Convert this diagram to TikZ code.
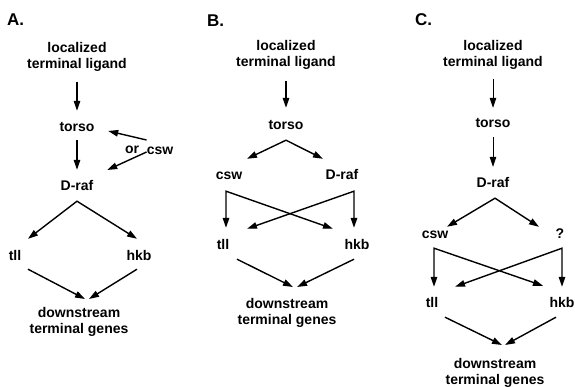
\documentclass[tikz,border=0pt]{standalone}
\usepackage{fontspec}
\setmainfont{Liberation Sans}
\usetikzlibrary{arrows.meta}
\begin{document}
\begin{tikzpicture}[x=1pt,y=-1pt,
  lbl/.style={inner sep=0pt,font=\fontsize{14}{16}\selectfont\bfseries,
              text height=10pt,text depth=3pt},
  twoline/.style={inner sep=0pt,font=\fontsize{14}{16}\selectfont\bfseries,
              align=center,anchor=north},
  panel/.style={inner sep=0pt,font=\fontsize{17}{18}\selectfont\bfseries,anchor=base west},
  tip/.tip={Triangle[length=10pt,width=6.5pt]},
  arr/.style={line width=1.4pt,-tip},
  thin/.style={line width=0.8pt,-tip},
  both/.style={line width=1.4pt,tip-tip,line join=miter}]
\useasboundingbox (0,0) rectangle (575,387);

% ---------------- A ----------------
\node[panel] (labA) at (7,26) {A.};
\node[twoline] (ligA) at (77,42) {localized\\terminal ligand};
\node[lbl] (torsoA) at (77,128) {torso};
\node[lbl] (drafA) at (77,187) {D-raf};
\node[lbl] (cswA) at (160,151) {csw};
\node[lbl] (orA) at (132,150) {or};
\node[lbl] (tllA) at (15,257) {tll};
\node[lbl] (hkbA) at (139,257) {hkb};
\node[twoline] (dsA) at (79,306.7) {downstream\\terminal genes};

\draw[arr,shorten <=10pt,shorten >=10.5pt] (ligA.south) -- (torsoA.north);
\draw[arr,shorten <=5.5pt,shorten >=10.5pt] (torsoA.south) -- (drafA.north);
\draw[arr] ([shift={(0,-11)}]cswA.west) -- ([shift={(13.5,3)}]torsoA.east);
\draw[arr] ([shift={(0,1)}]cswA.west) -- ([shift={(13.7,-17)}]drafA.east);
\coordinate (forkA) at ([shift={(0,7.5)}]drafA.south);
\draw[both] ([shift={(13,-11.5)}]tllA.north) -- (forkA) -- ([shift={(-2,-11.5)}]hkbA.north);
\draw[arr] ([shift={(13,5.5)}]tllA.south) -- ([shift={(6,-7.7)}]dsA.north);
\draw[arr] ([shift={(-2,5.5)}]hkbA.south) -- ([shift={(10,-7.7)}]dsA.north);

% ---------------- B ----------------
\node[panel] (labB) at (207,26.7) {B.};
\node[twoline] (ligB) at (286,40) {localized\\terminal ligand};
\node[lbl] (torsoB) at (286,126.5) {torso};
\node[lbl] (cswB) at (229,176.5) {csw};
\node[lbl] (drafB) at (342,176.5) {D-raf};
\node[lbl] (tllB) at (223,245.5) {tll};
\node[lbl] (hkbB) at (357,245.5) {hkb};
\node[twoline] (dsB) at (287,298.3) {downstream\\terminal genes};

\draw[arr,shorten <=11pt,shorten >=12pt] (ligB.south) -- (torsoB.north);
\coordinate (forkB) at ([shift={(0,7)}]torsoB.south);
\draw[both] ([shift={(18,-11)}]cswB.north) -- (forkB) -- ([shift={(-19,-11)}]drafB.north);
\coordinate (cswBc) at ([shift={(-3,8)}]cswB.south);
\draw[both] ([shift={(3,-11)}]tllB.north) -- (cswBc) -- ([shift={(-24,-10)}]hkbB.north);
\coordinate (drafBc) at ([shift={(12,8)}]drafB.south);
\draw[both] ([shift={(-3,-11)}]hkbB.north) -- (drafBc) -- ([shift={(24,-10)}]tllB.north);
\draw[arr] ([shift={(14,7)}]tllB.south) -- ([shift={(6,-11.3)}]dsB.north);
\draw[arr] ([shift={(-3,7)}]hkbB.south) -- ([shift={(10,-11.3)}]dsB.north);

% ---------------- C ----------------
\node[panel] (labC) at (415,26) {C.};
\node[twoline] (ligC) at (493,40) {localized\\terminal ligand};
\node[lbl] (torsoC) at (493,124) {torso};
\node[lbl] (drafC) at (493,184.5) {D-raf};
\node[lbl] (cswC) at (435,234.8) {csw};
\node[lbl] (qC) at (560,234.8) {?};
\node[lbl] (tllC) at (432,303.8) {tll};
\node[lbl] (hkbC) at (562,303.8) {hkb};
\node[twoline] (dsC) at (495,358.3) {downstream\\terminal genes};

\draw[thin,shorten <=9pt,shorten >=9.5pt] (ligC.south) -- (torsoC.north);
\draw[thin,shorten <=6.5pt,shorten >=11pt] (torsoC.south) -- (drafC.north);
\coordinate (forkC) at ([shift={(2,7)}]drafC.south);
\draw[both] ([shift={(12,-1.3)}]cswC.north) -- (forkC) -- ([shift={(-21,-1.3)}]qC.north);
\coordinate (cswCc) at ([shift={(-1,6.7)}]cswC.south);
\draw[both] ([shift={(2,-10.3)}]tllC.north) -- (cswCc) -- ([shift={(-19,-11.3)}]hkbC.north);
\coordinate (qCc) at ([shift={(2,6.7)}]qC.south);
\draw[both] ([shift={(0,-10.3)}]hkbC.north) -- (qCc) -- ([shift={(23,-10.3)}]tllC.north);
\draw[arr] ([shift={(13,6.7)}]tllC.south) -- ([shift={(7,-13.3)}]dsC.north);
\draw[arr] ([shift={(-6,6.7)}]hkbC.south) -- ([shift={(10,-13.3)}]dsC.north);
\end{tikzpicture}
\end{document}
